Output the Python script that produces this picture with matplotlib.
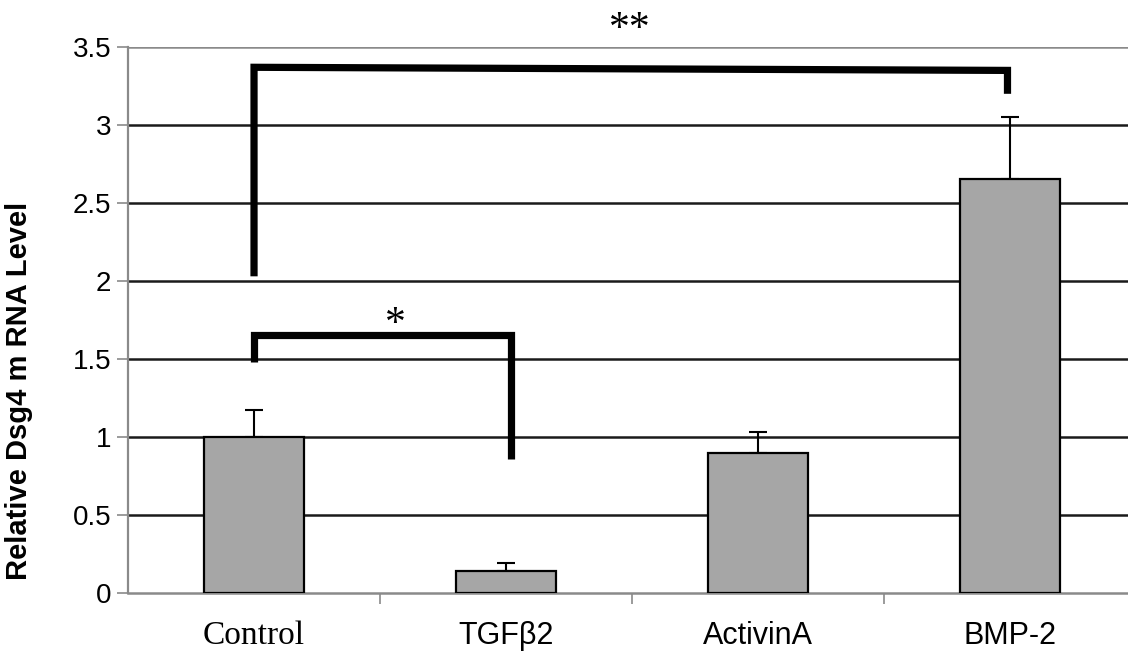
import matplotlib.pyplot as plt

# data
categories = ['Control', 'TGFβ2', 'ActivinA', 'BMP-2']
values = [1.0, 0.143, 0.895, 2.655]
errors = [0.17, 0.047, 0.135, 0.395]
y_ticks = [0, 0.5, 1, 1.5, 2, 2.5, 3, 3.5]
y_tick_labels = ['0', '0.5', '1', '1.5', '2', '2.5', '3', '3.5']

# significance brackets (x in category units, y in data units)
big_bracket_x = [0.0, 0.0, 2.99, 2.99]
big_bracket_y = [2.03, 3.37, 3.35, 3.2]
small_bracket_x = [0.0, 0.0, 1.02, 1.02]
small_bracket_y = [1.48, 1.655, 1.655, 0.86]

fig = plt.figure(figsize=(11.28, 6.52), dpi=100)
ax = fig.add_axes([0.1135, 0.0905, 0.8936, 0.8374])

x = list(range(len(categories)))

# horizontal grid lines
for yv in y_ticks[1:]:
    col = '#8a8a8a' if yv == 3.5 else '#1a1a1a'
    ax.axhline(yv, color=col, linewidth=1.8, zorder=1)

ax.bar(x, values, width=0.4, color='#a6a6a6', edgecolor='black',
       linewidth=1.6, zorder=3)
ax.errorbar(x, values, yerr=[[0] * len(errors), errors], fmt='none',
            ecolor='black', elinewidth=1.5, capsize=6.5, capthick=1.5,
            zorder=2)

# brackets
ax.plot(big_bracket_x, big_bracket_y, color='black', linewidth=5.2,
        solid_joinstyle='miter', solid_capstyle='butt', zorder=4)
ax.plot(small_bracket_x, small_bracket_y, color='black', linewidth=5.2,
        solid_joinstyle='miter', solid_capstyle='butt', zorder=4)
ax.text(1.49, 3.61, '**', ha='center', va='center', fontsize=30,
        family='Liberation Serif')
ax.text(0.56, 1.72, '*', ha='center', va='center', fontsize=30,
        family='Liberation Serif')

ax.set_xlim(-0.5, 3.5)
ax.set_ylim(0, 3.5)
ax.set_yticks(y_ticks)
ax.set_yticklabels(y_tick_labels, family='Liberation Sans', fontsize=20)

# category ticks sit on the boundaries, labels under the bars
ax.set_xticks([0.5, 1.5, 2.5], minor=False)
ax.set_xticklabels([])
ax.set_xticks(x, minor=True)
ax.set_xticklabels(categories, minor=True, family='Liberation Sans', fontsize=22)
ax.get_xticklabels(minor=True)[0].set_family('Liberation Serif')
ax.get_xticklabels(minor=True)[0].set_fontsize(24)
ax.tick_params(axis='x', which='minor', length=0, pad=20)
ax.tick_params(axis='x', which='major', length=8, width=1.2, color='#8a8a8a',
               direction='out')
ax.tick_params(axis='y', length=8, width=1.2, color='#8a8a8a', pad=4,
               direction='out')

for s in ['top', 'right']:
    ax.spines[s].set_visible(False)
ax.spines['left'].set_color('#8a8a8a')
ax.spines['left'].set_linewidth(1.6)
ax.spines['bottom'].set_color('#8a8a8a')
ax.spines['bottom'].set_linewidth(1.8)

ax.set_ylabel('Relative Dsg4 m RNA Level', family='Liberation Sans',
              fontweight='bold', fontsize=21)
ax.yaxis.set_label_coords(-0.094, 0.37)

fig.savefig('out.png', dpi=100)
